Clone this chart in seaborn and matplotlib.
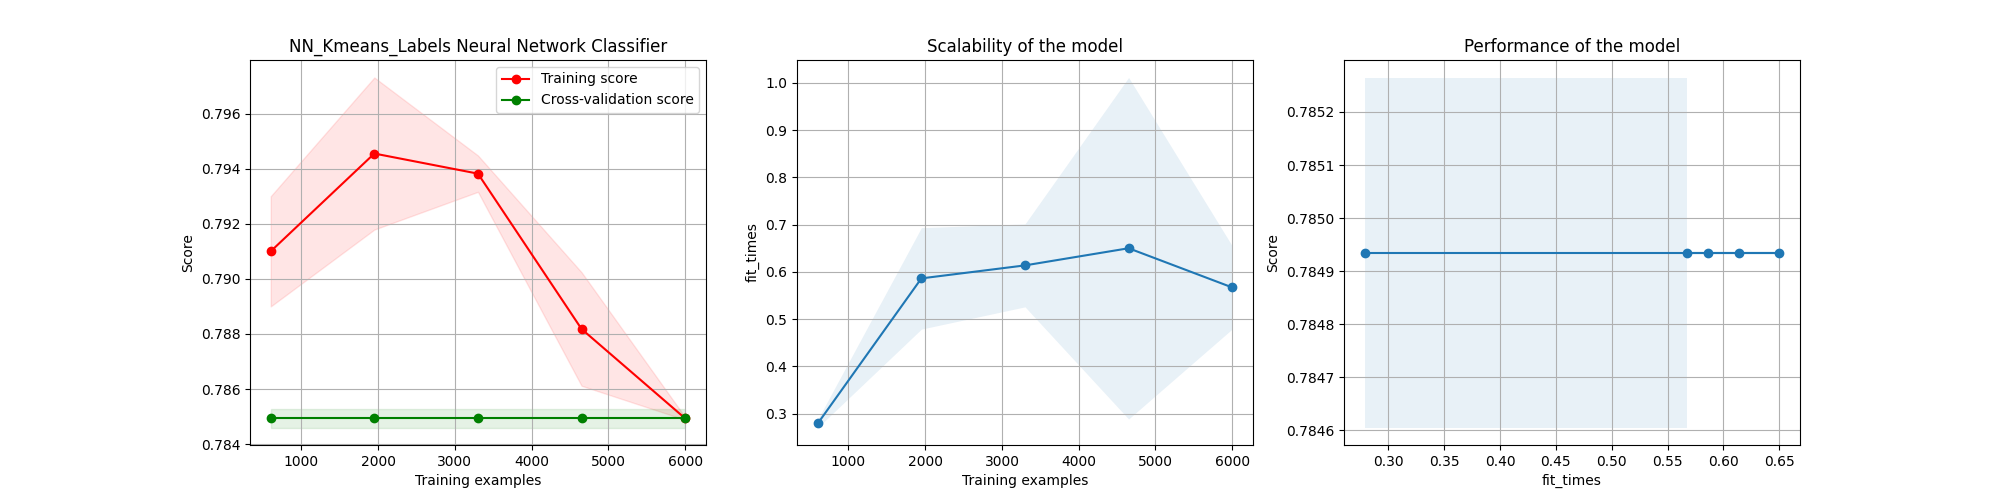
"""Curva de aprendizado, escalabilidade e desempenho (NN com rótulos KMeans)."""

from __future__ import annotations

import matplotlib

matplotlib.use("Agg")

import matplotlib.pyplot as plt
import pandas as pd
import seaborn as sns

_TITULO = "NN_Kmeans_Labels Neural Network Classifier"

train_sizes = [600, 1950, 3300, 4650, 6000]
train_scores_mean = [0.79100, 0.79455, 0.79382, 0.78818, 0.784935]
train_scores_std = [0.00200, 0.00276, 0.00066, 0.00206, 0.00005]
test_scores_mean = [0.784935, 0.784935, 0.784935, 0.784935, 0.784935]
test_scores_std = [0.00033, 0.00033, 0.00033, 0.00033, 0.00033]
fit_times_mean = [0.279, 0.5862, 0.6137, 0.650, 0.567]
fit_times_std = [0.0086, 0.1074, 0.0878, 0.3616, 0.0880]


def _serie(ax, df, x, y, std, color, label=None, sort=True):
    sns.lineplot(
        data=df,
        x=x,
        y=y,
        marker="o",
        color=color,
        markeredgecolor=color,
        markeredgewidth=1.0,
        markersize=6,
        linewidth=1.5,
        sort=sort,
        label=label,
        ax=ax,
    )
    ax.fill_between(
        df[x], df[y] - df[std], df[y] + df[std], alpha=0.1, color=color,
        linewidth=0,
    )


def main() -> None:
    df = pd.DataFrame(
        {
            "size": train_sizes,
            "train": train_scores_mean,
            "train_std": train_scores_std,
            "test": test_scores_mean,
            "test_std": test_scores_std,
            "fit": fit_times_mean,
            "fit_std": fit_times_std,
        }
    )

    fig, axes = plt.subplots(1, 3, figsize=(20, 5), dpi=100)

    # Painel 1: curva de aprendizado
    ax = axes[0]
    ax.grid()
    ax.fill_between(
        df["size"], df["train"] - df["train_std"], df["train"] + df["train_std"],
        alpha=0.1, color="r",
    )
    ax.fill_between(
        df["size"], df["test"] - df["test_std"], df["test"] + df["test_std"],
        alpha=0.1, color="g",
    )
    for col, color, label in [
        ("train", "r", "Training score"),
        ("test", "g", "Cross-validation score"),
    ]:
        sns.lineplot(
            data=df, x="size", y=col, marker="o", color=color,
            markeredgecolor=color, markeredgewidth=1.0, markersize=6,
            linewidth=1.5, label=label, ax=ax,
        )
    ax.set_title(_TITULO)
    ax.set_xlabel("Training examples")
    ax.set_ylabel("Score")
    ax.legend(loc="best")

    # Painel 2: escalabilidade
    ax = axes[1]
    ax.grid()
    _serie(ax, df, "size", "fit", "fit_std", "C0")
    ax.set_title("Scalability of the model")
    ax.set_xlabel("Training examples")
    ax.set_ylabel("fit_times")

    # Painel 3: desempenho (x não ordenado, como no original)
    ax = axes[2]
    ax.grid()
    _serie(ax, df, "fit", "test", "test_std", "C0", sort=False)
    ax.set_title("Performance of the model")
    ax.set_xlabel("fit_times")
    ax.set_ylabel("Score")

    fig.savefig("out.png", dpi=100)
    plt.close(fig)


if __name__ == "__main__":
    main()
